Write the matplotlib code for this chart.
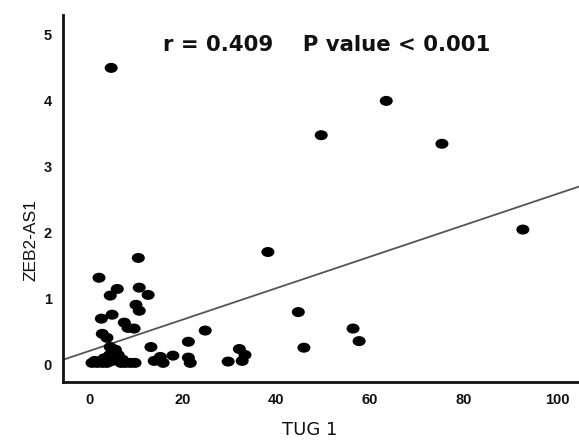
import numpy as np
import matplotlib
matplotlib.use("Agg")
import matplotlib.pyplot as plt
from matplotlib.path import Path
from matplotlib.transforms import Affine2D

plt.rcParams['font.family'] = ['Liberation Sans', 'DejaVu Sans']

# TUG1 expression (x) vs ZEB2-AS1 expression (y)
tug1 = [4.7, 63.5, 49.6, 75.4, 92.7, 38.2, 44.7, 24.8, 56.4, 57.7,
        45.9, 32.1, 33.3, 32.7, 29.7,
        10.5, 2.1, 6.0, 4.5, 10.7, 12.6, 10.0, 10.7, 4.9, 2.6,
        7.5, 8.3, 9.6, 2.8, 3.8, 21.2, 4.5, 5.6, 13.2, 17.9,
        15.2, 13.9, 15.8, 21.2, 21.6,
        0.6, 1.7, 2.8, 3.8, 4.9, 5.6, 6.2, 7.1, 7.7, 8.8, 9.8,
        4.4, 5.2, 5.8, 3.2, 1.2, 6.8, 4.0]
zeb2_as1 = [4.5, 4.0, 3.48, 3.35, 2.05, 1.71, 0.80, 0.52, 0.55, 0.36,
            0.26, 0.24, 0.15, 0.06, 0.05,
            1.62, 1.32, 1.15, 1.05, 1.17, 1.06, 0.91, 0.82, 0.76, 0.70,
            0.64, 0.56, 0.55, 0.47, 0.41, 0.35, 0.27, 0.23, 0.27, 0.14,
            0.12, 0.06, 0.03, 0.11, 0.03,
            0.03, 0.03, 0.03, 0.03, 0.06, 0.10, 0.15, 0.08, 0.03, 0.03, 0.03,
            0.15, 0.20, 0.08, 0.10, 0.06, 0.03, 0.05]

# fitted line
fit_intercept = 0.21
fit_slope = 0.0238

fig = plt.figure(figsize=(5.79, 4.44), dpi=100)
ax = fig.add_axes([0.1088, 0.1396, 0.8912, 0.8264])

# the dots in the picture are slightly wider than tall
circ = Path.unit_circle()
oval = Path(Affine2D().scale(1.3, 1.0).transform(circ.vertices), circ.codes)
ax.scatter(tug1, zeb2_as1, s=88, marker=oval, color='black',
           edgecolors='none', zorder=3)

xs = np.array([-5.6, 104.7])
ax.plot(xs, fit_intercept + fit_slope * xs, color='#555555', lw=1.3, zorder=2)

ax.set_xlim(-5.6, 104.7)
ax.set_ylim(-0.26, 5.3)
ax.set_xticks([0, 20, 40, 60, 80, 100])
ax.set_yticks([0, 1, 2, 3, 4, 5])
ax.tick_params(length=0, labelsize=10.5, pad=8)
for lab in ax.get_xticklabels() + ax.get_yticklabels():
    lab.set_fontweight('bold')
    lab.set_color('#111111')

for s in ['top', 'right']:
    ax.spines[s].set_visible(False)
for s in ['left', 'bottom']:
    ax.spines[s].set_linewidth(2)
    ax.spines[s].set_color('#111111')

ax.set_xlabel('TUG 1', fontsize=13, color='#111111', family='DejaVu Sans')
ax.xaxis.set_label_coords(0.479, -0.105)
ax.set_ylabel('ZEB2-AS1', fontsize=12.5, color='#111111')
ax.yaxis.set_label_coords(-0.047, 0.387)

ax.text(15.8, 4.85, 'r = 0.409    P value < 0.001', fontsize=15.3,
        fontweight='bold', va='center', ha='left', color='#111111',
        family='DejaVu Sans')

fig.savefig('out.png', dpi=100)
